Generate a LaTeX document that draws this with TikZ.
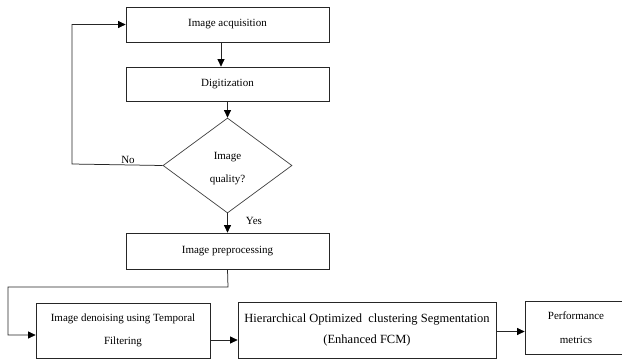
\documentclass[tikz,border=0pt]{standalone}
\usepackage{fontspec}
\setmainfont{Liberation Serif}
\usetikzlibrary{arrows.meta,shapes.geometric}
\begin{document}
\begin{tikzpicture}[x=1pt,y=-1pt,
  boxnode/.style={draw=black!85,line width=0.75pt,rectangle,inner sep=0pt,font=\fontsize{11}{22}\selectfont,align=center},
  decnode/.style={draw=black!75,line width=0.7pt,diamond,inner sep=0pt,font=\fontsize{11}{23}\selectfont,align=center},
  conn/.style={draw=black!85,line width=0.75pt},
  arr/.style={conn,-{Triangle[length=7.5pt,width=7pt,color=black]}},
  lbl/.style={font=\fontsize{11}{13}\selectfont,inner sep=0pt}]
\useasboundingbox (0,0) rectangle (622,360);
\clip (0,0) rectangle (622,360);
\fill[white] (0,0) rectangle (622,360);
\node[boxnode,minimum width=203pt,minimum height=35pt] (b1) at (227.5,24.5) {Image acquisition};
\node[boxnode,minimum width=203pt,minimum height=34pt] (b2) at (227.5,84) {Digitization};
\node[decnode,minimum width=129pt,minimum height=95pt] (d) at (227.5,165.5) {};
\node[lbl] (dt1) at (227.5,157) {Image};
\node[lbl] (dt2) at (227.5,180) {quality?};
\node[boxnode,minimum width=203pt,minimum height=36pt] (b3) at (227.5,251) {Image preprocessing};
\node[boxnode,minimum width=174pt,minimum height=55pt] (b4) at (123,330.5) {Image denoising using Temporal\\[1pt]Filtering};
\node[boxnode,minimum width=258pt,minimum height=56pt,font=\fontsize{12.5}{21}\selectfont] (b5) at (367,330) {Hierarchical Optimized\ \ clustering Segmentation\\(Enhanced FCM)};
\node[boxnode,minimum width=102pt,minimum height=53pt,font=\fontsize{11}{24}\selectfont] (b6) at (576,327.5) {Performance\\metrics};
\node[lbl] (no) at (128,160) {No};
\node[lbl] (yes) at (254,221) {Yes};
\coordinate (c1) at (72,164);
\coordinate (c2) at (228,287);
\coordinate (c3) at (8,287);
\coordinate (c4) at (8,335);
\draw[arr] ([xshift=-6.5pt]b1.south) -- ([xshift=-6.5pt]b1.south |- b2.north);
\draw[arr] (b2.south) -- (d.north);
\draw[arr] (d.west) -- (c1) |- (b1.west);
\draw[arr] (d.south) -- (b3.north);
\draw[arr] (b3.south) -- (c2) -- (c3) -- (c4) -- (c4 -| b4.west);
\draw[arr] ([yshift=-9.5pt]b4.east) -- ([yshift=-9.5pt]b4.east -| b5.west);
\draw[arr] ([yshift=-1.5pt]b5.east) -- ([yshift=-1.5pt]b5.east -| b6.west);
\end{tikzpicture}
\end{document}
